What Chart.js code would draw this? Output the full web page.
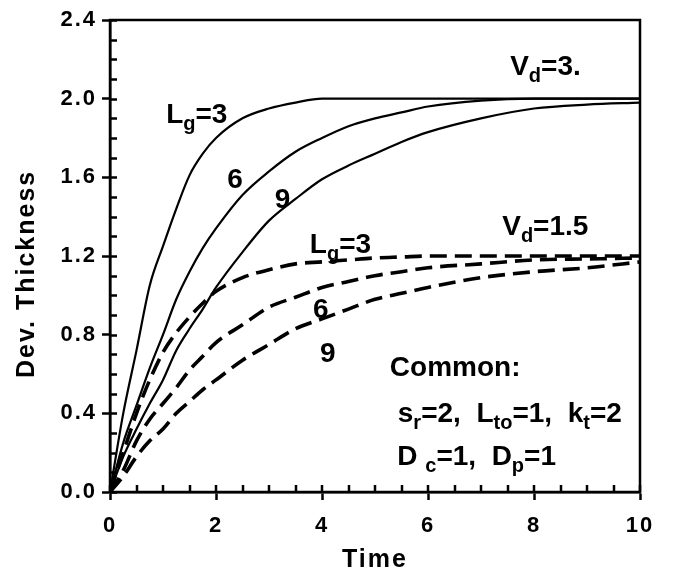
<!DOCTYPE html>
<html>
<head>
<meta charset="utf-8">
<script src="https://cdn.jsdelivr.net/npm/chart.js@4"></script>
<style>
  html, body { margin: 0; padding: 0; background: #fff; }
  #wrap { width: 673px; height: 576px; }
</style>
</head>
<body>
<div id="wrap"><canvas id="chart" width="673" height="576"></canvas></div>
<script>
/* ===== DATA ===== */
const time = [0, 0.25, 0.5, 0.75, 1, 1.25, 1.5, 1.75, 2, 2.5, 3, 3.5, 4, 4.5, 5, 5.5, 6, 7, 8, 9, 10];

// Vd = 3 (solid)
const vd3Lg3 = [0, 0.40, 0.72, 1.05, 1.25, 1.44, 1.61, 1.72, 1.80, 1.90, 1.95, 1.98, 2.0, 2.0, 2.0, 2.0, 2.0, 2.0, 2.0, 2.0, 2.0];
const vd3Lg6 = [0, 0.25, 0.44, 0.63, 0.80, 0.98, 1.12, 1.24, 1.34, 1.51, 1.63, 1.73, 1.80, 1.86, 1.90, 1.93, 1.96, 1.99, 2.0, 2.0, 2.0];
const vd3Lg9 = [0, 0.18, 0.32, 0.45, 0.57, 0.72, 0.83, 0.93, 1.04, 1.22, 1.38, 1.49, 1.59, 1.66, 1.72, 1.78, 1.83, 1.90, 1.95, 1.97, 1.98];

// Vd = 1.5 (dashed)
const vd15Lg3 = [0, 0.20, 0.40, 0.57, 0.71, 0.81, 0.89, 0.96, 1.02, 1.09, 1.13, 1.16, 1.17, 1.18, 1.19, 1.195, 1.2, 1.2, 1.2, 1.2, 1.2];
const vd15Lg6 = [0, 0.11, 0.26, 0.37, 0.45, 0.53, 0.62, 0.69, 0.76, 0.85, 0.94, 0.99, 1.04, 1.07, 1.10, 1.12, 1.14, 1.16, 1.18, 1.185, 1.19];
const vd15Lg9 = [0, 0.08, 0.18, 0.26, 0.32, 0.40, 0.46, 0.52, 0.57, 0.67, 0.75, 0.83, 0.88, 0.93, 0.98, 1.01, 1.04, 1.09, 1.12, 1.14, 1.17];

const xTicks = [0, 2, 4, 6, 8, 10];
const yTicks = [0, 0.4, 0.8, 1.2, 1.6, 2.0, 2.4];

// annotation texts: [text, isSubscript]
const noteLg3 = [["L", 0], ["g", 1], ["=3", 0]];
const noteVd3 = [["V", 0], ["d", 1], ["=3.", 0]];
const noteVd15 = [["V", 0], ["d", 1], ["=1.5", 0]];
const noteCommon = [["Common:", 0]];
const noteLine1 = [["s", 0], ["r", 1], ["=2,  L", 0], ["to", 1], ["=1,  k", 0], ["t", 1], ["=2", 0]];
const noteLine2 = [["D ", 0], ["c", 1], ["=1,  D", 0], ["p", 1], ["=1", 0]];

const FONT = "'Liberation Sans', Arial, sans-serif";

/* ===== HELPERS ===== */
const pts = arr => time.map((t, i) => ({ x: t, y: arr[i] }));

function solid(arr) {
  return { data: pts(arr), borderColor: "#000", borderWidth: 2.2, pointRadius: 0,
           fill: false, cubicInterpolationMode: "monotone" };
}
function dashed(arr) {
  return { data: pts(arr), borderColor: "#000", borderWidth: 3.6, borderDash: [17, 8],
           pointRadius: 0, fill: false, cubicInterpolationMode: "monotone" };
}

function richText(ctx, parts, x, y, size) {
  let cx = x;
  parts.forEach(([txt, sub]) => {
    ctx.font = `bold ${sub ? Math.round(size * 0.72) : size}px ${FONT}`;
    ctx.fillText(txt, cx, sub ? y + size * 0.26 : y);
    cx += ctx.measureText(txt).width;
  });
}

/* ===== PLUGINS ===== */
// wider lettering for axis text, like the original
const spacing = {
  id: "spacing",
  beforeLayout(chart) { chart.ctx.letterSpacing = "2px"; },
  beforeDraw(chart) { chart.ctx.letterSpacing = "2px"; }
};

const frame = {
  id: "frame",
  afterDatasetsDraw(chart) {
    const { ctx, chartArea: a, scales: { x, y } } = chart;
    ctx.save();
    ctx.strokeStyle = "#000";
    ctx.lineWidth = 2.5;
    ctx.strokeRect(a.left, a.top, a.right - a.left, a.bottom - a.top);

    // inner ticks: majors and minors
    ctx.beginPath();
    for (let v = 0; v <= 2.4001; v += 0.1) {
      const py = Math.round(y.getPixelForValue(v)) + 0.5;
      ctx.moveTo(a.left, py);
      ctx.lineTo(a.left + 7, py);
    }
    for (let v = 0; v <= 10.001; v += 0.5) {
      const px = Math.round(x.getPixelForValue(v));
      ctx.moveTo(px, a.bottom);
      ctx.lineTo(px, a.bottom - 7);
    }
    ctx.stroke();
    ctx.restore();
  },
  afterDraw(chart) {
    const { ctx, scales: { x, y } } = chart;
    const at = (vx, vy) => [x.getPixelForValue(vx), y.getPixelForValue(vy)];
    ctx.save();
    ctx.letterSpacing = "0px";
    ctx.fillStyle = "#000";
    ctx.textBaseline = "alphabetic";
    ctx.textAlign = "left";
    const big = 28;
    richText(ctx, noteLg3, ...at(1.06, 1.876), big);
    richText(ctx, [["6", 0]], ...at(2.21, 1.546), big);
    richText(ctx, [["9", 0]], ...at(3.11, 1.444), big);
    richText(ctx, noteVd3, ...at(7.55, 2.12), big);
    richText(ctx, noteLg3, ...at(3.77, 1.215), big);
    richText(ctx, noteVd15, ...at(7.4, 1.307), big);
    richText(ctx, [["6", 0]], ...at(3.83, 0.885), big);
    richText(ctx, [["9", 0]], ...at(3.96, 0.66), big);
    richText(ctx, noteCommon, ...at(5.28, 0.59), big);
    richText(ctx, noteLine1, ...at(5.43, 0.356), big);
    richText(ctx, noteLine2, ...at(5.42, 0.137), big);
    ctx.restore();
  }
};

/* ===== CHART ===== */
new Chart(document.getElementById("chart"), {
  type: "line",
  data: {
    datasets: [
      solid(vd3Lg3), solid(vd3Lg6), solid(vd3Lg9),
      dashed(vd15Lg3), dashed(vd15Lg6), dashed(vd15Lg9)
    ]
  },
  options: {
    responsive: false,
    animation: false,
    layout: { padding: { top: 20, right: 33, left: 0, bottom: 0 } },
    plugins: { legend: { display: false }, tooltip: { enabled: false } },
    scales: {
      x: {
        type: "linear",
        min: 0, max: 10,
        afterFit: s => { s.height = 84; },
        afterBuildTicks: s => { s.ticks = xTicks.map(v => ({ value: v })); },
        grid: { drawOnChartArea: false, tickLength: 8, tickWidth: 2.5, tickColor: "#000" },
        border: { color: "#000", width: 2.5 },
        ticks: { color: "#000", padding: 13, maxRotation: 0,
                 font: { family: FONT, size: 22, weight: "bold" } },
        title: { display: true, text: "Time", color: "#000",
                 font: { family: FONT, size: 25, weight: "bold" }, padding: { top: 0, bottom: 1 } }
      },
      y: {
        min: 0, max: 2.4,
        afterFit: s => { s.width = 110; },
        afterBuildTicks: s => { s.ticks = yTicks.map(v => ({ value: v })); },
        grid: { drawOnChartArea: false, tickLength: 8, tickWidth: 2.5, tickColor: "#000" },
        border: { color: "#000", width: 2.5 },
        ticks: { color: "#000", padding: 5,
                 callback: v => v.toFixed(1),
                 font: { family: FONT, size: 22, weight: "bold" } },
        // trailing spaces nudge the title down, as in the original
        title: { display: true, text: "Dev. Thickness    ", color: "#000",
                 font: { family: FONT, size: 25, weight: "bold" }, padding: { top: 12, bottom: 0 } }
      }
    }
  },
  plugins: [spacing, frame]
});
</script>
</body>
</html>
